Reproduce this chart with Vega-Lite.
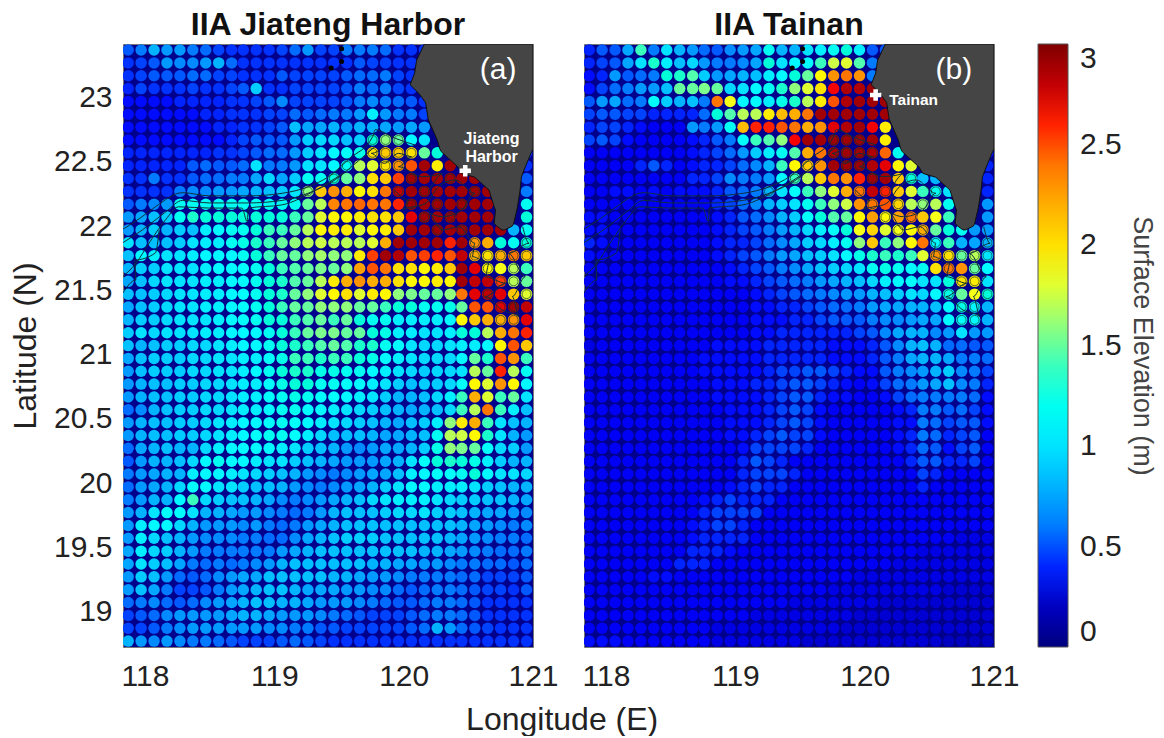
{"$schema":"https://vega.github.io/schema/vega-lite/v6.json","padding":{"left":9,"top":8,"right":0,"bottom":0},"background":"white","spacing":22,"title":{"text":"Longitude (E)","orient":"bottom","anchor":"start","dx":457,"fontSize":32,"fontWeight":"normal","color":"#222","offset":13},"datasets":{"land":[{"lat":23.417,"w":120.16,"e":121},{"lat":23.29,"w":120.1,"e":121},{"lat":23.19,"w":120.085,"e":121},{"lat":23.1,"w":120.05,"e":121},{"lat":23.03,"w":120.12,"e":121},{"lat":22.96,"w":120.17,"e":121},{"lat":22.83,"w":120.19,"e":121},{"lat":22.67,"w":120.26,"e":121},{"lat":22.6,"w":120.28,"e":121},{"lat":22.58,"w":120.29,"e":120.99},{"lat":22.46,"w":120.42,"e":120.94},{"lat":22.41,"w":120.45,"e":120.92},{"lat":22.38,"w":120.55,"e":120.91},{"lat":22.28,"w":120.66,"e":120.9},{"lat":22.15,"w":120.7,"e":120.88},{"lat":22.125,"w":120.71,"e":120.875},{"lat":22.02,"w":120.7,"e":120.85},{"lat":22,"w":120.72,"e":120.84},{"lat":21.97,"w":120.76,"e":120.78}],"rings":[{"lon":119.76,"lat":22.67},{"lon":119.86,"lat":22.67},{"lon":119.96,"lat":22.67},{"lon":119.76,"lat":22.57},{"lon":119.86,"lat":22.57},{"lon":119.96,"lat":22.57},{"lon":120.06,"lat":22.57},{"lon":119.86,"lat":22.47},{"lon":119.96,"lat":22.47},{"lon":120.06,"lat":22.37},{"lon":120.36,"lat":22.37},{"lon":119.96,"lat":22.27},{"lon":120.16,"lat":22.27},{"lon":120.55,"lat":22.27},{"lon":120.06,"lat":22.17},{"lon":120.26,"lat":22.17},{"lon":120.45,"lat":22.17},{"lon":120.16,"lat":22.07},{"lon":120.36,"lat":22.07},{"lon":120.26,"lat":21.97},{"lon":120.45,"lat":21.97},{"lon":120.55,"lat":21.87},{"lon":120.55,"lat":21.77},{"lon":120.65,"lat":21.77},{"lon":120.75,"lat":21.77},{"lon":120.85,"lat":21.77},{"lon":120.65,"lat":21.67},{"lon":120.85,"lat":21.67},{"lon":120.95,"lat":21.77},{"lon":120.75,"lat":21.57},{"lon":120.85,"lat":21.57},{"lon":120.65,"lat":21.47},{"lon":120.95,"lat":21.47},{"lon":120.75,"lat":21.37},{"lon":120.85,"lat":21.37},{"lon":120.75,"lat":21.27},{"lon":120.85,"lat":21.27},{"lon":120.95,"lat":21.87},{"lon":119.26,"lat":22.27},{"lon":119.46,"lat":22.37},{"lon":119.56,"lat":22.47}],"isles":[{"lon":119.52,"lat":23.38},{"lon":119.44,"lat":23.23},{"lon":119.52,"lat":23.28}],"iso":[{"k":"a","i":1,"lon":117.82,"lat":21.97},{"k":"a","i":2,"lon":117.96,"lat":22.06},{"k":"a","i":3,"lon":118.08,"lat":22.15},{"k":"a","i":4,"lon":118.29,"lat":22.26},{"k":"a","i":5,"lon":118.5,"lat":22.235},{"k":"a","i":6,"lon":118.8,"lat":22.235},{"k":"a","i":7,"lon":119.06,"lat":22.255},{"k":"a","i":8,"lon":119.26,"lat":22.305},{"k":"a","i":9,"lon":119.42,"lat":22.385},{"k":"a","i":10,"lon":119.58,"lat":22.525},{"k":"a","i":11,"lon":119.76,"lat":22.695},{"k":"a","i":12,"lon":119.78,"lat":22.75},{"k":"a","i":13,"lon":119.93,"lat":22.685},{"k":"a","i":14,"lon":120.09,"lat":22.63},{"k":"b","i":1,"lon":117.82,"lat":21.865},{"k":"b","i":2,"lon":117.98,"lat":21.97},{"k":"b","i":3,"lon":118.16,"lat":22.11},{"k":"b","i":4,"lon":118.29,"lat":22.2},{"k":"b","i":5,"lon":118.5,"lat":22.18},{"k":"b","i":6,"lon":118.8,"lat":22.18},{"k":"b","i":7,"lon":119.06,"lat":22.2},{"k":"b","i":8,"lon":119.26,"lat":22.255},{"k":"b","i":9,"lon":119.47,"lat":22.36},{"k":"b","i":10,"lon":119.63,"lat":22.49},{"k":"b","i":11,"lon":119.78,"lat":22.62},{"k":"c","i":1,"lon":117.82,"lat":21.6},{"k":"c","i":2,"lon":117.93,"lat":21.71},{"k":"c","i":3,"lon":118.03,"lat":21.865},{"k":"c","i":4,"lon":118.16,"lat":22.05},{"k":"c","i":5,"lon":118.26,"lat":22.15},{"k":"c","i":6,"lon":118.5,"lat":22.14},{"k":"c","i":7,"lon":118.75,"lat":22.14},{"k":"c","i":8,"lon":118.79,"lat":22.035},{"k":"c","i":9,"lon":118.8,"lat":22.14},{"k":"c","i":10,"lon":119.06,"lat":22.165},{"k":"c","i":11,"lon":119.32,"lat":22.28},{"k":"c","i":12,"lon":119.53,"lat":22.41},{"k":"d","i":1,"lon":117.83,"lat":21.48},{"k":"d","i":2,"lon":117.93,"lat":21.58},{"k":"d","i":3,"lon":117.92,"lat":21.736},{"k":"d","i":4,"lon":118.08,"lat":21.79},{"k":"d","i":5,"lon":118.11,"lat":21.97},{"k":"e","i":1,"lon":119.93,"lat":22.28},{"k":"e","i":2,"lon":120.04,"lat":22.2},{"k":"e","i":3,"lon":119.99,"lat":22.125},{"k":"e","i":4,"lon":120.17,"lat":22.177},{"k":"e","i":5,"lon":120.27,"lat":22.307},{"k":"e","i":6,"lon":120.4,"lat":22.359},{"k":"e","i":7,"lon":120.55,"lat":22.255},{"k":"e","i":8,"lon":120.45,"lat":22.125},{"k":"e","i":9,"lon":120.3,"lat":22.073},{"k":"e","i":10,"lon":120.19,"lat":22.112},{"k":"e","i":11,"lon":120.3,"lat":21.97},{"k":"e","i":12,"lon":120.43,"lat":21.995},{"k":"e","i":13,"lon":120.55,"lat":21.866},{"k":"e","i":14,"lon":120.53,"lat":21.762},{"k":"e","i":15,"lon":120.66,"lat":21.71},{"k":"e","i":16,"lon":120.63,"lat":21.606},{"k":"e","i":17,"lon":120.79,"lat":21.555},{"k":"e","i":18,"lon":120.63,"lat":21.451},{"k":"e","i":19,"lon":120.76,"lat":21.347},{"k":"e","i":20,"lon":120.89,"lat":21.295},{"k":"e","i":21,"lon":120.84,"lat":21.451},{"k":"e","i":22,"lon":120.94,"lat":21.606},{"k":"e","i":23,"lon":120.81,"lat":21.788},{"k":"e","i":24,"lon":120.97,"lat":21.866},{"k":"e","i":25,"lon":120.92,"lat":21.995},{"k":"f","i":1,"lon":119.85,"lat":22.62},{"k":"f","i":2,"lon":119.75,"lat":22.566},{"k":"f","i":3,"lon":119.85,"lat":22.488},{"k":"f","i":4,"lon":119.96,"lat":22.566},{"k":"f","i":5,"lon":120.06,"lat":22.54},{"k":"f","i":6,"lon":119.96,"lat":22.462},{"k":"f","i":7,"lon":120.14,"lat":22.385},{"k":"f","i":8,"lon":120.3,"lat":22.41},{"k":"f","i":9,"lon":120.2,"lat":22.28}]},"data":{"values":"x,y,a,b\n117.87,23.37,.5,.4\n117.97,23.37,.6,.5\n118.07,23.37,.8,.5\n118.17,23.37,.7,.75\n118.27,23.37,.7,1.4\n118.37,23.37,.6,.6\n118.47,23.37,.55,1\n118.57,23.37,.45,.8\n118.67,23.37,.42,.7\n118.76,23.37,.42,.55\n118.86,23.37,.42,.5\n118.96,23.37,.42,.65\n119.06,23.37,.45,.7\n119.16,23.37,.55,.75\n119.26,23.37,.7,1.2\n119.36,23.37,.45,.8\n119.46,23.37,.45,.8\n119.56,23.37,.6,1\n119.66,23.37,.6,1.05\n119.76,23.37,.6,1.2\n119.86,23.37,.55,1.3\n119.96,23.37,.42,1.05\n120.06,23.37,.42,.5\n120.16,23.37,.42,.5\n117.87,23.27,.42,.4\n117.97,23.27,.45,.45\n118.07,23.27,.5,.5\n118.17,23.27,.7,.75\n118.27,23.27,.65,1\n118.37,23.27,.65,1.35\n118.47,23.27,.7,1.05\n118.57,23.27,.8,.85\n118.67,23.27,.55,.95\n118.76,23.27,.42,.7\n118.86,23.27,.42,.6\n118.96,23.27,.42,.6\n119.06,23.27,.42,.65\n119.16,23.27,.42,.75\n119.26,23.27,.42,1.3\n119.36,23.27,.42,1\n119.46,23.27,.42,1.1\n119.56,23.27,.42,1.1\n119.66,23.27,.5,1.4\n119.76,23.27,.45,1.75\n119.86,23.27,.45,1.8\n119.96,23.27,.42,1.45\n120.06,23.27,.42,.6\n120.16,23.27,.42,.5\n117.87,23.17,.42,.38\n117.97,23.17,.45,.4\n118.07,23.17,.5,.7\n118.17,23.17,.5,.5\n118.27,23.17,.5,.55\n118.37,23.17,.55,.6\n118.47,23.17,.55,1.3\n118.57,23.17,.45,1.35\n118.67,23.17,.45,1.45\n118.76,23.17,.42,.9\n118.86,23.17,.42,.7\n118.96,23.17,.42,.75\n119.06,23.17,.5,.8\n119.16,23.17,.45,.85\n119.26,23.17,.45,1.05\n119.36,23.17,.45,1.1\n119.46,23.17,.45,1.3\n119.56,23.17,.5,1.5\n119.66,23.17,.55,1.9\n119.76,23.17,.55,2.3\n119.86,23.17,.6,2.4\n119.96,23.17,.45,2.3\n120.06,23.17,.42,.6\n120.16,23.17,.42,.5\n117.87,23.07,.4,.38\n117.97,23.07,.45,.45\n118.07,23.07,.42,.55\n118.17,23.07,.42,.6\n118.27,23.07,.42,.7\n118.37,23.07,.45,.7\n118.47,23.07,.42,.85\n118.57,23.07,.42,1.5\n118.67,23.07,.45,1.5\n118.76,23.07,.5,1.55\n118.86,23.07,.9,1.5\n118.96,23.07,.42,.95\n119.06,23.07,.42,1\n119.16,23.07,.45,1.1\n119.26,23.07,.45,1.2\n119.36,23.07,.45,1.35\n119.46,23.07,.45,1.6\n119.56,23.07,.5,1.8\n119.66,23.07,.6,2\n119.76,23.07,.55,2.65\n119.86,23.07,.6,2.85\n119.96,23.07,.45,2.85\n120.06,23.07,.42,2.9\n120.16,23.07,.42,2.9\n117.87,22.97,.38,.5\n117.97,22.97,.38,.7\n118.07,22.97,.38,.75\n118.17,22.97,.38,.55\n118.27,22.97,.4,.6\n118.37,22.97,.4,1.15\n118.47,22.97,.4,.9\n118.57,22.97,.4,.8\n118.67,22.97,.42,.85\n118.76,22.97,.42,.6\n118.86,22.97,.45,2.4\n118.96,22.97,.5,1.85\n119.06,22.97,.65,1.1\n119.16,22.97,.45,1.1\n119.26,22.97,.45,1.05\n119.36,22.97,.45,1.25\n119.46,22.97,.45,1.35\n119.56,22.97,.5,1.7\n119.66,22.97,.6,1.95\n119.76,22.97,.65,2.5\n119.86,22.97,.6,2.85\n119.96,22.97,.55,2.9\n120.06,22.97,.5,2.9\n120.16,22.97,.42,2.9\n117.87,22.87,.38,.45\n117.97,22.87,.38,.5\n118.07,22.87,.38,.5\n118.17,22.87,.38,.45\n118.27,22.87,.38,.45\n118.37,22.87,.38,.4\n118.47,22.87,.4,.4\n118.57,22.87,.4,.4\n118.67,22.87,.42,.4\n118.76,22.87,.42,.55\n118.86,22.87,.42,1.3\n118.96,22.87,.45,1.45\n119.06,22.87,.45,1.7\n119.16,22.87,.55,1.7\n119.26,22.87,.5,1.95\n119.36,22.87,.55,2.15\n119.46,22.87,.6,2.2\n119.56,22.87,.6,2.4\n119.66,22.87,.7,2.9\n119.76,22.87,1.05,2.9\n119.86,22.87,.7,2.9\n119.96,22.87,.6,2.9\n120.06,22.87,.6,2.9\n120.16,22.87,.45,2.9\n117.87,22.77,.38,.4\n117.97,22.77,.38,.45\n118.07,22.77,.38,.45\n118.17,22.77,.38,.4\n118.27,22.77,.38,.38\n118.37,22.77,.38,.35\n118.47,22.77,.38,.35\n118.57,22.77,.4,.35\n118.67,22.77,.4,.7\n118.76,22.77,.42,.6\n118.86,22.77,.42,.7\n118.96,22.77,.45,1.2\n119.06,22.77,.5,2.15\n119.16,22.77,.85,2.6\n119.26,22.77,.75,2.6\n119.36,22.77,.75,2.5\n119.46,22.77,.8,2.4\n119.56,22.77,.7,2.2\n119.66,22.77,.8,2.3\n119.76,22.77,.8,2.7\n119.86,22.77,.75,2.85\n119.96,22.77,.7,2.9\n120.06,22.77,.75,2.65\n120.16,22.77,.7,1.95\n117.87,22.67,.38,.45\n117.97,22.67,.38,.5\n118.07,22.67,.38,.45\n118.17,22.67,.38,.38\n118.27,22.67,.38,.35\n118.37,22.67,.38,.35\n118.47,22.67,.38,.35\n118.57,22.67,.38,.35\n118.67,22.67,.4,.38\n118.76,22.67,.45,.4\n118.86,22.67,.5,.5\n118.96,22.67,.5,.6\n119.06,22.67,.5,1.15\n119.16,22.67,.7,1.4\n119.26,22.67,.9,1.45\n119.36,22.67,.95,1.6\n119.46,22.67,.95,2.65\n119.56,22.67,.85,2.9\n119.66,22.67,.9,2.9\n119.76,22.67,1.3,2.9\n119.86,22.67,1.6,2.9\n119.96,22.67,1.5,2.9\n120.06,22.67,1.1,2.9\n120.16,22.67,1,1.95\n117.87,22.57,.4,.35\n117.97,22.57,.4,.35\n118.07,22.57,.4,.35\n118.17,22.57,.4,.35\n118.27,22.57,.4,.35\n118.37,22.57,.4,.35\n118.47,22.57,.4,.35\n118.57,22.57,.42,.35\n118.67,22.57,.42,.38\n118.76,22.57,.45,.4\n118.86,22.57,.5,.45\n118.96,22.57,.55,.55\n119.06,22.57,.55,.7\n119.16,22.57,.7,.9\n119.26,22.57,.9,1.05\n119.36,22.57,1,1.2\n119.46,22.57,1.1,1.45\n119.56,22.57,1.15,2.2\n119.66,22.57,1.25,2.4\n119.76,22.57,2,2.85\n119.86,22.57,2.1,2.9\n119.96,22.57,2.1,2.9\n120.06,22.57,2,2.85\n120.16,22.57,1.5,2.45\n120.26,22.57,1.3,1.2\n120.95,22.57,.42,.4\n117.87,22.47,.4,.35\n117.97,22.47,.4,.35\n118.07,22.47,.4,.35\n118.17,22.47,.4,.35\n118.27,22.47,.4,.4\n118.37,22.47,.5,.5\n118.47,22.47,.55,.4\n118.57,22.47,.5,.35\n118.67,22.47,.5,.38\n118.76,22.47,.55,.4\n118.86,22.47,1,.4\n118.96,22.47,.6,.45\n119.06,22.47,.6,.55\n119.16,22.47,.7,.65\n119.26,22.47,1,.8\n119.36,22.47,1,1.4\n119.46,22.47,1.1,1.9\n119.56,22.47,1.2,2.1\n119.66,22.47,1.7,2.3\n119.76,22.47,1.8,2.9\n119.86,22.47,2,2.9\n119.96,22.47,2.3,2.9\n120.06,22.47,2.5,2.85\n120.16,22.47,2.9,2.7\n120.26,22.47,1.95,1.9\n120.36,22.47,2.9,1.8\n120.95,22.47,.42,.4\n117.87,22.37,.42,.35\n117.97,22.37,.42,.35\n118.07,22.37,.6,.35\n118.17,22.37,.42,.35\n118.27,22.37,.42,.35\n118.37,22.37,.5,.35\n118.47,22.37,.55,.35\n118.57,22.37,.55,.35\n118.67,22.37,.6,.4\n118.76,22.37,.6,.4\n118.86,22.37,.75,.45\n118.96,22.37,.95,.65\n119.06,22.37,.75,.6\n119.16,22.37,.9,.6\n119.26,22.37,1.2,.7\n119.36,22.37,1.2,1.1\n119.46,22.37,1.3,1.4\n119.56,22.37,1.5,1.7\n119.66,22.37,1.6,2.1\n119.76,22.37,2,2.4\n119.86,22.37,2.1,2.3\n119.96,22.37,2.55,2.6\n120.06,22.37,2.9,2.9\n120.16,22.37,2.9,2.9\n120.26,22.37,2.9,2.1\n120.36,22.37,2.9,1.3\n120.45,22.37,2.9,.85\n120.55,22.37,2.9,.8\n120.95,22.37,.5,.4\n117.87,22.27,.42,.35\n117.97,22.27,.42,.35\n118.07,22.27,.42,.38\n118.17,22.27,.42,.38\n118.27,22.27,.6,.35\n118.37,22.27,.65,.38\n118.47,22.27,.65,.35\n118.57,22.27,.7,.38\n118.67,22.27,.7,.38\n118.76,22.27,.75,.38\n118.86,22.27,.8,.4\n118.96,22.27,.85,.5\n119.06,22.27,.9,.55\n119.16,22.27,1,.6\n119.26,22.27,1.6,.8\n119.36,22.27,2.1,1\n119.46,22.27,2.3,1.15\n119.56,22.27,2.2,1.4\n119.66,22.27,1.9,1.6\n119.76,22.27,2,1.8\n119.86,22.27,2.4,2.2\n119.96,22.27,2.8,2.4\n120.06,22.27,2.9,2.8\n120.16,22.27,2.9,2.6\n120.26,22.27,2.9,2.1\n120.36,22.27,2.9,1.8\n120.45,22.27,2.9,1.4\n120.55,22.27,2.9,1.2\n120.65,22.27,2.9,1\n120.95,22.27,.6,.4\n117.87,22.17,.5,.35\n117.97,22.17,.6,.35\n118.07,22.17,.65,.35\n118.17,22.17,.7,.35\n118.27,22.17,1.2,.35\n118.37,22.17,1.2,.35\n118.47,22.17,1.2,.35\n118.57,22.17,1.2,.35\n118.67,22.17,1.2,.35\n118.76,22.17,1.2,.35\n118.86,22.17,1.2,.4\n118.96,22.17,1.2,.45\n119.06,22.17,1.2,.55\n119.16,22.17,1.2,.65\n119.26,22.17,1.5,.8\n119.36,22.17,1.7,.9\n119.46,22.17,2.35,1\n119.56,22.17,2.4,1.2\n119.66,22.17,2.45,1.4\n119.76,22.17,2.4,1.6\n119.86,22.17,2.4,1.75\n119.96,22.17,2.6,2.3\n120.06,22.17,2.9,2.4\n120.16,22.17,2.9,2.5\n120.26,22.17,2.9,2.05\n120.36,22.17,2.9,1.7\n120.45,22.17,2.9,1.6\n120.55,22.17,2.9,1.7\n120.65,22.17,2.9,1.2\n120.95,22.17,1.2,.7\n117.87,22.07,.7,.38\n117.97,22.07,.75,.38\n118.07,22.07,.85,.35\n118.17,22.07,.9,.35\n118.27,22.07,1.2,.35\n118.37,22.07,1.35,.35\n118.47,22.07,1.3,.35\n118.57,22.07,1.3,.35\n118.67,22.07,1.3,.35\n118.76,22.07,1.3,.35\n118.86,22.07,1.3,.38\n118.96,22.07,1.3,.4\n119.06,22.07,1.3,.5\n119.16,22.07,1.4,.55\n119.26,22.07,1.5,.65\n119.36,22.07,1.8,.8\n119.46,22.07,1.9,.9\n119.56,22.07,1.9,1.15\n119.66,22.07,1.95,1.3\n119.76,22.07,2,1.45\n119.86,22.07,2,1.5\n119.96,22.07,2.1,1.9\n120.06,22.07,2.7,2.25\n120.16,22.07,2.9,1.9\n120.26,22.07,2.9,2.25\n120.36,22.07,2.9,2.4\n120.45,22.07,2.9,2.1\n120.55,22.07,2.9,1.85\n120.65,22.07,2.9,1.4\n120.95,22.07,1.3,.7\n117.87,21.97,.7,.38\n117.97,21.97,.8,.38\n118.07,21.97,.9,.35\n118.17,21.97,.8,.35\n118.27,21.97,.9,.35\n118.37,21.97,.85,.35\n118.47,21.97,1.05,.35\n118.57,21.97,1.1,.35\n118.67,21.97,1.2,.35\n118.76,21.97,1.2,.35\n118.86,21.97,1.3,.38\n118.96,21.97,1.4,.4\n119.06,21.97,1.4,.45\n119.16,21.97,1.5,.5\n119.26,21.97,1.7,.6\n119.36,21.97,1.9,.7\n119.46,21.97,1.95,.8\n119.56,21.97,1.95,.95\n119.66,21.97,1.8,1.05\n119.76,21.97,1.9,1.15\n119.86,21.97,1.95,1.3\n119.96,21.97,2.1,1.85\n120.06,21.97,2.9,2.05\n120.16,21.97,2.9,1.8\n120.26,21.97,2.9,1.85\n120.36,21.97,2.9,1.9\n120.45,21.97,2.9,2.2\n120.55,21.97,2.9,1.5\n120.65,21.97,2.9,1.3\n120.75,21.97,2.9,1.2\n120.85,21.97,.8,.7\n120.95,21.97,1.2,.7\n117.87,21.87,1,.4\n117.97,21.87,.85,.38\n118.07,21.87,.85,.35\n118.17,21.87,.85,.35\n118.27,21.87,.9,.35\n118.37,21.87,1,.35\n118.47,21.87,1.05,.35\n118.57,21.87,1.05,.35\n118.67,21.87,1.2,.35\n118.76,21.87,1.25,.35\n118.86,21.87,1.35,.38\n118.96,21.87,1.4,.4\n119.06,21.87,1.5,.4\n119.16,21.87,1.6,.45\n119.26,21.87,1.7,.55\n119.36,21.87,1.75,.65\n119.46,21.87,1.7,.75\n119.56,21.87,1.7,.9\n119.66,21.87,1.7,.95\n119.76,21.87,1.8,1.05\n119.86,21.87,2.2,1.2\n119.96,21.87,2.9,1.6\n120.06,21.87,2.9,2.1\n120.16,21.87,2.9,1.4\n120.26,21.87,2.9,1.6\n120.36,21.87,2.6,1.9\n120.45,21.87,2.9,2.4\n120.55,21.87,2.3,1.1\n120.65,21.87,2.2,1.4\n120.75,21.87,1.3,.8\n120.85,21.87,1.2,.75\n120.95,21.87,1.3,.8\n117.87,21.77,.85,.38\n117.97,21.77,1.1,.35\n118.07,21.77,1.05,.35\n118.17,21.77,1,.35\n118.27,21.77,1,.35\n118.37,21.77,1.05,.35\n118.47,21.77,1.1,.35\n118.57,21.77,1.1,.35\n118.67,21.77,1.1,.35\n118.76,21.77,1.2,.35\n118.86,21.77,1.3,.38\n118.96,21.77,1.4,.4\n119.06,21.77,1.5,.45\n119.16,21.77,1.5,.5\n119.26,21.77,1.6,.6\n119.36,21.77,1.65,.7\n119.46,21.77,1.6,.75\n119.56,21.77,1.6,.85\n119.66,21.77,1.95,.9\n119.76,21.77,2.55,1\n119.86,21.77,2.9,1.1\n119.96,21.77,2.85,1.25\n120.06,21.77,2.5,1.35\n120.16,21.77,2.55,1.4\n120.26,21.77,2.6,1.35\n120.36,21.77,2.5,1.4\n120.45,21.77,2.8,1.8\n120.55,21.77,2.2,2.3\n120.65,21.77,2,2\n120.75,21.77,2.2,1.5\n120.85,21.77,2.4,1.7\n120.95,21.77,2.1,1\n117.87,21.67,.8,.35\n117.97,21.67,.9,.35\n118.07,21.67,.9,.35\n118.17,21.67,1,.35\n118.27,21.67,1,.35\n118.37,21.67,1,.35\n118.47,21.67,1.05,.35\n118.57,21.67,1.1,.35\n118.67,21.67,1.1,.35\n118.76,21.67,1.15,.35\n118.86,21.67,1.2,.35\n118.96,21.67,1.3,.38\n119.06,21.67,1.4,.4\n119.16,21.67,1.45,.45\n119.26,21.67,1.5,.5\n119.36,21.67,1.55,.6\n119.46,21.67,1.5,.65\n119.56,21.67,1.6,.75\n119.66,21.67,2.25,.85\n119.76,21.67,2.5,.9\n119.86,21.67,2.4,.95\n119.96,21.67,2,1\n120.06,21.67,2,1.2\n120.16,21.67,1.9,1.25\n120.26,21.67,1.95,1.2\n120.36,21.67,2.1,1.15\n120.45,21.67,2.9,1.2\n120.55,21.67,2.7,2\n120.65,21.67,1.9,2.4\n120.75,21.67,1.85,2.3\n120.85,21.67,1.7,1.5\n120.95,21.67,1.4,1.1\n117.87,21.57,.75,.35\n117.97,21.57,.85,.35\n118.07,21.57,.95,.35\n118.17,21.57,1,.35\n118.27,21.57,1,.35\n118.37,21.57,1,.35\n118.47,21.57,1.05,.35\n118.57,21.57,1.05,.35\n118.67,21.57,1.1,.35\n118.76,21.57,1.15,.35\n118.86,21.57,1.2,.35\n118.96,21.57,1.3,.38\n119.06,21.57,1.35,.38\n119.16,21.57,1.45,.4\n119.26,21.57,1.5,.45\n119.36,21.57,1.7,.5\n119.46,21.57,1.95,.55\n119.56,21.57,2.2,.6\n119.66,21.57,2.3,.7\n119.76,21.57,2.2,.75\n119.86,21.57,2.2,.8\n119.96,21.57,2,.85\n120.06,21.57,1.9,.95\n120.16,21.57,1.9,1.05\n120.26,21.57,1.95,1.1\n120.36,21.57,1.9,1.15\n120.45,21.57,2.9,1\n120.55,21.57,2.8,1\n120.65,21.57,2.8,1.3\n120.75,21.57,2.55,2\n120.85,21.57,1.7,1.95\n120.95,21.57,1.5,1\n117.87,21.47,.85,.35\n117.97,21.47,.85,.35\n118.07,21.47,.9,.35\n118.17,21.47,.95,.35\n118.27,21.47,1,.35\n118.37,21.47,1,.35\n118.47,21.47,1.05,.35\n118.57,21.47,1.05,.35\n118.67,21.47,1.1,.35\n118.76,21.47,1.15,.35\n118.86,21.47,1.2,.35\n118.96,21.47,1.3,.35\n119.06,21.47,1.35,.35\n119.16,21.47,1.5,.38\n119.26,21.47,1.6,.4\n119.36,21.47,1.8,.45\n119.46,21.47,1.9,.5\n119.56,21.47,2,.55\n119.66,21.47,1.8,.6\n119.76,21.47,1.95,.65\n119.86,21.47,1.9,.7\n119.96,21.47,1.6,.7\n120.06,21.47,1.55,.8\n120.16,21.47,1.5,.85\n120.26,21.47,1.5,.9\n120.36,21.47,1.6,1\n120.45,21.47,2.4,.95\n120.55,21.47,2.7,1.1\n120.65,21.47,2.8,1.25\n120.75,21.47,2.7,1.5\n120.85,21.47,2.1,1.85\n120.95,21.47,1.8,1.3\n117.87,21.37,.75,.35\n117.97,21.37,.85,.35\n118.07,21.37,.9,.35\n118.17,21.37,.95,.35\n118.27,21.37,1,.35\n118.37,21.37,1,.35\n118.47,21.37,1.05,.35\n118.57,21.37,1.05,.35\n118.67,21.37,1.1,.35\n118.76,21.37,1.15,.35\n118.86,21.37,1.2,.35\n118.96,21.37,1.3,.35\n119.06,21.37,1.4,.35\n119.16,21.37,1.5,.38\n119.26,21.37,1.5,.38\n119.36,21.37,1.6,.4\n119.46,21.37,1.6,.4\n119.56,21.37,1.6,.45\n119.66,21.37,1.5,.5\n119.76,21.37,1.5,.55\n119.86,21.37,1.4,.55\n119.96,21.37,1.3,.6\n120.06,21.37,1.3,.7\n120.16,21.37,1.2,.75\n120.26,21.37,1.2,.75\n120.36,21.37,1.25,.8\n120.45,21.37,1.5,.8\n120.55,21.37,2.5,.85\n120.65,21.37,2.5,1.1\n120.75,21.37,2.7,1.25\n120.85,21.37,2.9,1.1\n120.95,21.37,2.8,.8\n117.87,21.27,.8,.35\n117.97,21.27,.9,.35\n118.07,21.27,.9,.35\n118.17,21.27,.95,.35\n118.27,21.27,1,.35\n118.37,21.27,1,.35\n118.47,21.27,1,.35\n118.57,21.27,1.05,.35\n118.67,21.27,1.1,.35\n118.76,21.27,1.15,.35\n118.86,21.27,1.2,.35\n118.96,21.27,1.3,.35\n119.06,21.27,1.3,.35\n119.16,21.27,1.4,.38\n119.26,21.27,1.45,.38\n119.36,21.27,1.5,.38\n119.46,21.27,1.4,.4\n119.56,21.27,1.5,.4\n119.66,21.27,1.3,.45\n119.76,21.27,1.2,.5\n119.86,21.27,1.2,.5\n119.96,21.27,1.05,.5\n120.06,21.27,1.05,.6\n120.16,21.27,1.05,.65\n120.26,21.27,1.05,.65\n120.36,21.27,1.1,.7\n120.45,21.27,1.9,.75\n120.55,21.27,2.1,.75\n120.65,21.27,2.2,1.1\n120.75,21.27,2.2,1.15\n120.85,21.27,2.3,1.1\n120.95,21.27,2.7,.8\n117.87,21.17,.9,.35\n117.97,21.17,1,.35\n118.07,21.17,.95,.35\n118.17,21.17,1,.35\n118.27,21.17,1,.35\n118.37,21.17,1,.35\n118.47,21.17,1.05,.35\n118.57,21.17,1.05,.35\n118.67,21.17,1.1,.35\n118.76,21.17,1.1,.35\n118.86,21.17,1.1,.35\n118.96,21.17,1.2,.35\n119.06,21.17,1.3,.35\n119.16,21.17,1.4,.38\n119.26,21.17,1.5,.38\n119.36,21.17,1.55,.4\n119.46,21.17,1.55,.4\n119.56,21.17,1.5,.4\n119.66,21.17,1.5,.4\n119.76,21.17,1.3,.4\n119.86,21.17,1.25,.4\n119.96,21.17,1.05,.45\n120.06,21.17,1.05,.5\n120.16,21.17,1,.65\n120.26,21.17,1,.75\n120.36,21.17,1.05,.8\n120.45,21.17,1.3,.8\n120.55,21.17,1.3,.65\n120.65,21.17,1.7,.7\n120.75,21.17,2.2,1\n120.85,21.17,2.4,.7\n120.95,21.17,2.6,.7\n117.87,21.07,.85,.3\n117.97,21.07,.8,.35\n118.07,21.07,.85,.35\n118.17,21.07,.9,.35\n118.27,21.07,.9,.35\n118.37,21.07,.95,.35\n118.47,21.07,.95,.35\n118.57,21.07,1,.35\n118.67,21.07,1.05,.35\n118.76,21.07,1.1,.35\n118.86,21.07,1.1,.38\n118.96,21.07,1.2,.38\n119.06,21.07,1.3,.38\n119.16,21.07,1.35,.38\n119.26,21.07,1.4,.4\n119.36,21.07,1.45,.4\n119.46,21.07,1.5,.4\n119.56,21.07,1.45,.4\n119.66,21.07,1.35,.4\n119.76,21.07,1.35,.38\n119.86,21.07,1.2,.38\n119.96,21.07,1.1,.38\n120.06,21.07,1,.4\n120.16,21.07,.95,.5\n120.26,21.07,.95,.65\n120.36,21.07,1,.8\n120.45,21.07,1.05,.85\n120.55,21.07,1.05,.8\n120.65,21.07,1.1,.55\n120.75,21.07,1.9,.55\n120.85,21.07,2.5,.5\n120.95,21.07,2.1,.5\n117.87,20.97,.75,.35\n117.97,20.97,.85,.35\n118.07,20.97,.9,.35\n118.17,20.97,.9,.35\n118.27,20.97,.9,.35\n118.37,20.97,.95,.35\n118.47,20.97,.95,.35\n118.57,20.97,1,.35\n118.67,20.97,1,.35\n118.76,20.97,1.05,.38\n118.86,20.97,1.05,.38\n118.96,20.97,1.15,.38\n119.06,20.97,1.25,.38\n119.16,20.97,1.4,.38\n119.26,20.97,1.4,.4\n119.36,20.97,1.35,.4\n119.46,20.97,1.4,.4\n119.56,20.97,1.4,.4\n119.66,20.97,1.3,.4\n119.76,20.97,1.25,.38\n119.86,20.97,1.1,.38\n119.96,20.97,1.05,.38\n120.06,20.97,1,.4\n120.16,20.97,.95,.5\n120.26,20.97,.95,.6\n120.36,20.97,.95,.75\n120.45,20.97,1.1,.8\n120.55,20.97,1.5,.8\n120.65,20.97,1.35,.75\n120.75,20.97,2.5,.6\n120.85,20.97,2.3,.6\n120.95,20.97,1.4,.55\n117.87,20.87,.7,.35\n117.97,20.87,.85,.35\n118.07,20.87,.9,.35\n118.17,20.87,.9,.35\n118.27,20.87,.9,.35\n118.37,20.87,.95,.35\n118.47,20.87,.95,.35\n118.57,20.87,1,.35\n118.67,20.87,1,.35\n118.76,20.87,1.05,.38\n118.86,20.87,1.1,.38\n118.96,20.87,1.2,.38\n119.06,20.87,1.3,.38\n119.16,20.87,1.35,.38\n119.26,20.87,1.35,.4\n119.36,20.87,1.25,.45\n119.46,20.87,1.25,.45\n119.56,20.87,1.2,.5\n119.66,20.87,1.2,.5\n119.76,20.87,1.1,.45\n119.86,20.87,1.05,.4\n119.96,20.87,1,.38\n120.06,20.87,.95,.38\n120.16,20.87,.9,.5\n120.26,20.87,.95,.6\n120.36,20.87,.95,.65\n120.45,20.87,1,.7\n120.55,20.87,1.7,.8\n120.65,20.87,1.5,.9\n120.75,20.87,2.6,.65\n120.85,20.87,1.7,.6\n120.95,20.87,1.2,.45\n117.87,20.77,.7,.35\n117.97,20.77,.8,.35\n118.07,20.77,.85,.35\n118.17,20.77,.85,.35\n118.27,20.77,.9,.35\n118.37,20.77,.9,.35\n118.47,20.77,.95,.35\n118.57,20.77,.95,.35\n118.67,20.77,1,.35\n118.76,20.77,1.05,.35\n118.86,20.77,1.05,.38\n118.96,20.77,1.15,.38\n119.06,20.77,1.25,.38\n119.16,20.77,1.3,.4\n119.26,20.77,1.3,.4\n119.36,20.77,1.2,.45\n119.46,20.77,1.2,.5\n119.56,20.77,1.15,.5\n119.66,20.77,1.1,.45\n119.76,20.77,1.05,.4\n119.86,20.77,1,.38\n119.96,20.77,.9,.35\n120.06,20.77,.85,.38\n120.16,20.77,.9,.45\n120.26,20.77,.9,.55\n120.36,20.77,.95,.6\n120.45,20.77,1.15,.7\n120.55,20.77,1.9,.75\n120.65,20.77,1.8,.85\n120.75,20.77,2.3,.65\n120.85,20.77,1.9,.6\n120.95,20.77,1.1,.4\n117.87,20.67,.7,.35\n117.97,20.67,.8,.35\n118.07,20.67,.85,.35\n118.17,20.67,.85,.35\n118.27,20.67,.9,.35\n118.37,20.67,.9,.35\n118.47,20.67,.95,.35\n118.57,20.67,.95,.35\n118.67,20.67,1,.35\n118.76,20.67,1.05,.35\n118.86,20.67,1.05,.38\n118.96,20.67,1.15,.38\n119.06,20.67,1.2,.38\n119.16,20.67,1.25,.38\n119.26,20.67,1.2,.4\n119.36,20.67,1.15,.45\n119.46,20.67,1.15,.5\n119.56,20.67,1.1,.5\n119.66,20.67,1.05,.4\n119.76,20.67,1,.38\n119.86,20.67,.9,.38\n119.96,20.67,.8,.35\n120.06,20.67,.8,.35\n120.16,20.67,.85,.38\n120.26,20.67,.95,.45\n120.36,20.67,1.05,.55\n120.45,20.67,1.4,.6\n120.55,20.67,2.2,.6\n120.65,20.67,1.8,.6\n120.75,20.67,1.4,.6\n120.85,20.67,1.5,.55\n120.95,20.67,1,.38\n117.87,20.57,.55,.35\n117.97,20.57,.65,.35\n118.07,20.57,.8,.35\n118.17,20.57,.85,.35\n118.27,20.57,.9,.35\n118.37,20.57,.9,.35\n118.47,20.57,.95,.35\n118.57,20.57,.95,.35\n118.67,20.57,1,.35\n118.76,20.57,1.05,.35\n118.86,20.57,1.05,.35\n118.96,20.57,1.1,.38\n119.06,20.57,1.2,.38\n119.16,20.57,1.2,.38\n119.26,20.57,1.1,.4\n119.36,20.57,1.1,.45\n119.46,20.57,1.05,.5\n119.56,20.57,1,.45\n119.66,20.57,.95,.38\n119.76,20.57,.9,.35\n119.86,20.57,.85,.35\n119.96,20.57,.8,.35\n120.06,20.57,.75,.35\n120.16,20.57,.8,.35\n120.26,20.57,.85,.38\n120.36,20.57,.95,.4\n120.45,20.57,1.4,.6\n120.55,20.57,1.7,.6\n120.65,20.57,2.4,.5\n120.75,20.57,1.4,.55\n120.85,20.57,1.05,.45\n120.95,20.57,.85,.38\n117.87,20.47,.7,.35\n117.97,20.47,.8,.35\n118.07,20.47,.85,.35\n118.17,20.47,.85,.35\n118.27,20.47,.9,.35\n118.37,20.47,.9,.35\n118.47,20.47,.95,.35\n118.57,20.47,1,.35\n118.67,20.47,1.05,.35\n118.76,20.47,1.1,.35\n118.86,20.47,1.1,.35\n118.96,20.47,1.15,.38\n119.06,20.47,1.2,.38\n119.16,20.47,1.15,.38\n119.26,20.47,1.1,.4\n119.36,20.47,1.05,.45\n119.46,20.47,1,.5\n119.56,20.47,.95,.45\n119.66,20.47,.9,.38\n119.76,20.47,.85,.35\n119.86,20.47,.8,.35\n119.96,20.47,.75,.35\n120.06,20.47,.85,.35\n120.16,20.47,.9,.35\n120.26,20.47,1.05,.38\n120.36,20.47,1.6,.38\n120.45,20.47,1.95,.6\n120.55,20.47,2.2,.55\n120.65,20.47,1.4,.45\n120.75,20.47,1,.5\n120.85,20.47,.85,.5\n120.95,20.47,.8,.38\n117.87,20.37,.7,.35\n117.97,20.37,.8,.35\n118.07,20.37,.85,.35\n118.17,20.37,.85,.35\n118.27,20.37,.9,.35\n118.37,20.37,.9,.35\n118.47,20.37,.95,.35\n118.57,20.37,1,.35\n118.67,20.37,1.05,.35\n118.76,20.37,1.1,.35\n118.86,20.37,1.15,.35\n118.96,20.37,1.2,.38\n119.06,20.37,1.2,.38\n119.16,20.37,1.15,.4\n119.26,20.37,1.05,.45\n119.36,20.37,.95,.5\n119.46,20.37,.85,.45\n119.56,20.37,.85,.45\n119.66,20.37,.85,.38\n119.76,20.37,.8,.35\n119.86,20.37,.75,.35\n119.96,20.37,.75,.35\n120.06,20.37,.8,.35\n120.16,20.37,.85,.35\n120.26,20.37,1.2,.38\n120.36,20.37,1.7,.4\n120.45,20.37,1.75,.6\n120.55,20.37,1.9,.55\n120.65,20.37,1.35,.4\n120.75,20.37,1,.45\n120.85,20.37,.8,.5\n120.95,20.37,.7,.35\n117.87,20.27,.55,.35\n117.97,20.27,.75,.35\n118.07,20.27,.8,.35\n118.17,20.27,.85,.35\n118.27,20.27,.8,.35\n118.37,20.27,.8,.35\n118.47,20.27,.95,.35\n118.57,20.27,1.05,.35\n118.67,20.27,1.1,.35\n118.76,20.27,1.1,.35\n118.86,20.27,1.1,.35\n118.96,20.27,1.1,.35\n119.06,20.27,1.05,.38\n119.16,20.27,1,.45\n119.26,20.27,.9,.45\n119.36,20.27,.85,.45\n119.46,20.27,.8,.45\n119.56,20.27,.7,.4\n119.66,20.27,.65,.35\n119.76,20.27,.7,.35\n119.86,20.27,.75,.35\n119.96,20.27,.75,.35\n120.06,20.27,.8,.35\n120.16,20.27,.9,.35\n120.26,20.27,1.25,.38\n120.36,20.27,1.6,.4\n120.45,20.27,1.55,.55\n120.55,20.27,1.5,.5\n120.65,20.27,1.15,.38\n120.75,20.27,.95,.45\n120.85,20.27,.9,.5\n120.95,20.27,.7,.35\n117.87,20.17,.5,.35\n117.97,20.17,.7,.35\n118.07,20.17,.8,.35\n118.17,20.17,.8,.35\n118.27,20.17,.85,.35\n118.37,20.17,.95,.35\n118.47,20.17,1.1,.35\n118.57,20.17,1.2,.35\n118.67,20.17,1.1,.35\n118.76,20.17,1.1,.35\n118.86,20.17,1.05,.35\n118.96,20.17,1,.35\n119.06,20.17,1,.4\n119.16,20.17,.9,.5\n119.26,20.17,.85,.45\n119.36,20.17,.8,.4\n119.46,20.17,.75,.35\n119.56,20.17,.7,.35\n119.66,20.17,.7,.35\n119.76,20.17,.7,.35\n119.86,20.17,.75,.35\n119.96,20.17,.8,.35\n120.06,20.17,1,.35\n120.16,20.17,1.15,.35\n120.26,20.17,1.3,.35\n120.36,20.17,1.35,.4\n120.45,20.17,1.3,.5\n120.55,20.17,1.25,.5\n120.65,20.17,1.05,.4\n120.75,20.17,.9,.4\n120.85,20.17,.8,.45\n120.95,20.17,.8,.35\n117.87,20.07,.6,.35\n117.97,20.07,.7,.35\n118.07,20.07,.75,.35\n118.17,20.07,.8,.35\n118.27,20.07,.8,.35\n118.37,20.07,1.05,.35\n118.47,20.07,1.1,.35\n118.57,20.07,1.1,.35\n118.67,20.07,1.05,.35\n118.76,20.07,1,.35\n118.86,20.07,.95,.35\n118.96,20.07,.9,.35\n119.06,20.07,.85,.4\n119.16,20.07,.8,.45\n119.26,20.07,.7,.45\n119.36,20.07,.65,.45\n119.46,20.07,.6,.4\n119.56,20.07,.65,.35\n119.66,20.07,.7,.35\n119.76,20.07,.75,.35\n119.86,20.07,.75,.35\n119.96,20.07,.85,.35\n120.06,20.07,1.05,.35\n120.16,20.07,1.1,.35\n120.26,20.07,1.15,.35\n120.36,20.07,1.15,.35\n120.45,20.07,1.2,.45\n120.55,20.07,1.3,.4\n120.65,20.07,1.1,.35\n120.75,20.07,1,.35\n120.85,20.07,1,.35\n120.95,20.07,.95,.35\n117.87,19.97,.55,.35\n117.97,19.97,.7,.35\n118.07,19.97,.75,.35\n118.17,19.97,.8,.35\n118.27,19.97,.95,.35\n118.37,19.97,1.15,.35\n118.47,19.97,1.1,.35\n118.57,19.97,1,.35\n118.67,19.97,1,.35\n118.76,19.97,.9,.35\n118.86,19.97,.85,.35\n118.96,19.97,.85,.38\n119.06,19.97,.8,.4\n119.16,19.97,.7,.45\n119.26,19.97,.65,.4\n119.36,19.97,.6,.4\n119.46,19.97,.65,.35\n119.56,19.97,.7,.35\n119.66,19.97,.75,.35\n119.76,19.97,.8,.35\n119.86,19.97,.9,.35\n119.96,19.97,1,.35\n120.06,19.97,1.1,.35\n120.16,19.97,1.1,.35\n120.26,19.97,1.05,.35\n120.36,19.97,1.05,.35\n120.45,19.97,1.05,.4\n120.55,19.97,1,.35\n120.65,19.97,.9,.35\n120.75,19.97,.85,.35\n120.85,19.97,.8,.35\n120.95,19.97,.8,.35\n117.87,19.87,.6,.35\n117.97,19.87,.7,.35\n118.07,19.87,.8,.35\n118.17,19.87,.8,.35\n118.27,19.87,1.1,.35\n118.37,19.87,1.4,.35\n118.47,19.87,.95,.35\n118.57,19.87,.9,.35\n118.67,19.87,.85,.35\n118.76,19.87,.85,.38\n118.86,19.87,.8,.4\n118.96,19.87,.75,.45\n119.06,19.87,.65,.4\n119.16,19.87,.6,.4\n119.26,19.87,.65,.4\n119.36,19.87,.7,.35\n119.46,19.87,.75,.35\n119.56,19.87,.8,.35\n119.66,19.87,.85,.35\n119.76,19.87,.95,.35\n119.86,19.87,1,.35\n119.96,19.87,1.05,.35\n120.06,19.87,1.05,.35\n120.16,19.87,1.05,.35\n120.26,19.87,1,.35\n120.36,19.87,.95,.35\n120.45,19.87,.9,.35\n120.55,19.87,.9,.35\n120.65,19.87,.85,.35\n120.75,19.87,.85,.35\n120.85,19.87,.8,.35\n120.95,19.87,.75,.35\n117.87,19.77,.7,.35\n117.97,19.77,.8,.35\n118.07,19.77,1,.35\n118.17,19.77,1.15,.35\n118.27,19.77,1.15,.35\n118.37,19.77,1,.35\n118.47,19.77,.8,.35\n118.57,19.77,.8,.35\n118.67,19.77,.75,.35\n118.76,19.77,.7,.4\n118.86,19.77,.7,.45\n118.96,19.77,.65,.45\n119.06,19.77,.6,.45\n119.16,19.77,.55,.45\n119.26,19.77,.6,.35\n119.36,19.77,.7,.35\n119.46,19.77,.8,.35\n119.56,19.77,.85,.35\n119.66,19.77,.85,.35\n119.76,19.77,.85,.35\n119.86,19.77,.9,.35\n119.96,19.77,.95,.35\n120.06,19.77,.95,.35\n120.16,19.77,1,.35\n120.26,19.77,.9,.35\n120.36,19.77,.9,.35\n120.45,19.77,.85,.35\n120.55,19.77,.8,.35\n120.65,19.77,.75,.35\n120.75,19.77,.75,.35\n120.85,19.77,.7,.35\n120.95,19.77,.65,.35\n117.87,19.67,.7,.35\n117.97,19.67,1.05,.35\n118.07,19.67,1.1,.35\n118.17,19.67,1.1,.35\n118.27,19.67,.95,.35\n118.37,19.67,.8,.35\n118.47,19.67,.7,.35\n118.57,19.67,.7,.35\n118.67,19.67,.7,.38\n118.76,19.67,.65,.4\n118.86,19.67,.7,.45\n118.96,19.67,.6,.45\n119.06,19.67,.55,.4\n119.16,19.67,.6,.35\n119.26,19.67,.7,.35\n119.36,19.67,.75,.35\n119.46,19.67,.8,.35\n119.56,19.67,.85,.35\n119.66,19.67,.85,.35\n119.76,19.67,.85,.35\n119.86,19.67,.85,.35\n119.96,19.67,.85,.35\n120.06,19.67,.85,.35\n120.16,19.67,.85,.35\n120.26,19.67,.85,.35\n120.36,19.67,.85,.35\n120.45,19.67,.8,.35\n120.55,19.67,.75,.35\n120.65,19.67,.7,.35\n120.75,19.67,.65,.35\n120.85,19.67,.6,.35\n120.95,19.67,.65,.35\n117.87,19.57,.7,.35\n117.97,19.57,1.05,.35\n118.07,19.57,.95,.35\n118.17,19.57,.85,.35\n118.27,19.57,.8,.35\n118.37,19.57,.7,.35\n118.47,19.57,.65,.35\n118.57,19.57,.65,.35\n118.67,19.57,.65,.38\n118.76,19.57,.6,.4\n118.86,19.57,.6,.4\n118.96,19.57,.55,.4\n119.06,19.57,.55,.4\n119.16,19.57,.65,.35\n119.26,19.57,.75,.35\n119.36,19.57,.8,.35\n119.46,19.57,.85,.35\n119.56,19.57,.9,.35\n119.66,19.57,.9,.35\n119.76,19.57,.9,.35\n119.86,19.57,.85,.35\n119.96,19.57,.85,.35\n120.06,19.57,.85,.35\n120.16,19.57,.85,.35\n120.26,19.57,.85,.35\n120.36,19.57,.8,.35\n120.45,19.57,.75,.35\n120.55,19.57,.7,.35\n120.65,19.57,.65,.35\n120.75,19.57,.6,.3\n120.85,19.57,.6,.3\n120.95,19.57,.55,.3\n117.87,19.47,.75,.35\n117.97,19.47,1.05,.35\n118.07,19.47,.95,.35\n118.17,19.47,.9,.35\n118.27,19.47,.8,.35\n118.37,19.47,.7,.35\n118.47,19.47,.6,.35\n118.57,19.47,.6,.35\n118.67,19.47,.6,.4\n118.76,19.47,.6,.4\n118.86,19.47,.6,.4\n118.96,19.47,.6,.38\n119.06,19.47,.7,.35\n119.16,19.47,.75,.35\n119.26,19.47,.8,.35\n119.36,19.47,.85,.35\n119.46,19.47,.85,.35\n119.56,19.47,.85,.35\n119.66,19.47,.85,.35\n119.76,19.47,.85,.35\n119.86,19.47,.85,.35\n119.96,19.47,.85,.35\n120.06,19.47,.85,.35\n120.16,19.47,.8,.35\n120.26,19.47,.8,.35\n120.36,19.47,.75,.35\n120.45,19.47,.7,.3\n120.55,19.47,.65,.3\n120.65,19.47,.6,.3\n120.75,19.47,.55,.3\n120.85,19.47,.55,.3\n120.95,19.47,.6,.3\n117.87,19.37,.75,.35\n117.97,19.37,1,.35\n118.07,19.37,.9,.35\n118.17,19.37,.85,.35\n118.27,19.37,.75,.35\n118.37,19.37,.6,.35\n118.47,19.37,.55,.35\n118.57,19.37,.6,.4\n118.67,19.37,.55,.4\n118.76,19.37,.6,.4\n118.86,19.37,.65,.35\n118.96,19.37,.7,.35\n119.06,19.37,.8,.35\n119.16,19.37,.85,.35\n119.26,19.37,.85,.35\n119.36,19.37,.85,.35\n119.46,19.37,.85,.35\n119.56,19.37,.85,.35\n119.66,19.37,.85,.35\n119.76,19.37,.8,.35\n119.86,19.37,.8,.35\n119.96,19.37,.75,.35\n120.06,19.37,.75,.35\n120.16,19.37,.7,.35\n120.26,19.37,.7,.3\n120.36,19.37,.65,.3\n120.45,19.37,.6,.3\n120.55,19.37,.6,.3\n120.65,19.37,.55,.3\n120.75,19.37,.55,.3\n120.85,19.37,.5,.3\n120.95,19.37,.55,.3\n117.87,19.27,.7,.35\n117.97,19.27,.9,.35\n118.07,19.27,.85,.35\n118.17,19.27,.7,.35\n118.27,19.27,.55,.35\n118.37,19.27,.5,.38\n118.47,19.27,.55,.38\n118.57,19.27,.65,.35\n118.67,19.27,.7,.35\n118.76,19.27,.75,.35\n118.86,19.27,.75,.35\n118.96,19.27,.85,.35\n119.06,19.27,.85,.35\n119.16,19.27,.85,.35\n119.26,19.27,.85,.35\n119.36,19.27,.85,.35\n119.46,19.27,.8,.35\n119.56,19.27,.8,.35\n119.66,19.27,.75,.35\n119.76,19.27,.7,.35\n119.86,19.27,.7,.35\n119.96,19.27,.65,.3\n120.06,19.27,.6,.3\n120.16,19.27,.6,.3\n120.26,19.27,.6,.3\n120.36,19.27,.6,.3\n120.45,19.27,.55,.3\n120.55,19.27,.55,.3\n120.65,19.27,.45,.3\n120.75,19.27,.45,.3\n120.85,19.27,.45,.3\n120.95,19.27,.5,.3\n117.87,19.17,.7,.35\n117.97,19.17,.85,.35\n118.07,19.17,.75,.35\n118.17,19.17,.6,.35\n118.27,19.17,.45,.35\n118.37,19.17,.45,.35\n118.47,19.17,.5,.35\n118.57,19.17,.6,.35\n118.67,19.17,.7,.35\n118.76,19.17,.75,.35\n118.86,19.17,.8,.35\n118.96,19.17,.85,.35\n119.06,19.17,.85,.35\n119.16,19.17,.8,.35\n119.26,19.17,.75,.35\n119.36,19.17,.75,.35\n119.46,19.17,.75,.35\n119.56,19.17,.7,.35\n119.66,19.17,.7,.35\n119.76,19.17,.65,.3\n119.86,19.17,.65,.3\n119.96,19.17,.55,.3\n120.06,19.17,.5,.3\n120.16,19.17,.55,.3\n120.26,19.17,.6,.3\n120.36,19.17,.6,.3\n120.45,19.17,.55,.3\n120.55,19.17,.5,.3\n120.65,19.17,.45,.25\n120.75,19.17,.45,.25\n120.85,19.17,.42,.25\n120.95,19.17,.5,.25\n117.87,19.07,.55,.35\n117.97,19.07,.6,.35\n118.07,19.07,.65,.35\n118.17,19.07,.55,.35\n118.27,19.07,.5,.35\n118.37,19.07,.55,.35\n118.47,19.07,.65,.35\n118.57,19.07,.7,.35\n118.67,19.07,.75,.35\n118.76,19.07,.8,.35\n118.86,19.07,.85,.35\n118.96,19.07,.85,.35\n119.06,19.07,.8,.35\n119.16,19.07,.8,.35\n119.26,19.07,.75,.35\n119.36,19.07,.7,.35\n119.46,19.07,.7,.3\n119.56,19.07,.7,.3\n119.66,19.07,.65,.3\n119.76,19.07,.6,.3\n119.86,19.07,.55,.3\n119.96,19.07,.5,.3\n120.06,19.07,.5,.3\n120.16,19.07,.55,.25\n120.26,19.07,.6,.25\n120.36,19.07,.6,.25\n120.45,19.07,.55,.25\n120.55,19.07,.5,.25\n120.65,19.07,.42,.25\n120.75,19.07,.42,.25\n120.85,19.07,.42,.25\n120.95,19.07,.42,.25\n117.87,18.97,.45,.35\n117.97,18.97,.5,.35\n118.07,18.97,.55,.35\n118.17,18.97,.65,.35\n118.27,18.97,.7,.35\n118.37,18.97,.7,.35\n118.47,18.97,.7,.35\n118.57,18.97,.7,.35\n118.67,18.97,.75,.35\n118.76,18.97,.8,.35\n118.86,18.97,.8,.35\n118.96,18.97,.75,.35\n119.06,18.97,.7,.35\n119.16,18.97,.7,.3\n119.26,18.97,.7,.3\n119.36,18.97,.65,.3\n119.46,18.97,.6,.3\n119.56,18.97,.55,.3\n119.66,18.97,.5,.3\n119.76,18.97,.45,.3\n119.86,18.97,.45,.3\n119.96,18.97,.45,.25\n120.06,18.97,.5,.25\n120.16,18.97,.55,.25\n120.26,18.97,.6,.25\n120.36,18.97,.6,.25\n120.45,18.97,.55,.25\n120.55,18.97,.5,.25\n120.65,18.97,.42,.25\n120.75,18.97,.42,.25\n120.85,18.97,.42,.25\n120.95,18.97,.42,.25\n117.87,18.87,.45,.35\n117.97,18.87,.45,.35\n118.07,18.87,.5,.35\n118.17,18.87,.6,.35\n118.27,18.87,.65,.35\n118.37,18.87,.7,.35\n118.47,18.87,.7,.35\n118.57,18.87,.7,.35\n118.67,18.87,.7,.35\n118.76,18.87,.7,.35\n118.86,18.87,.7,.3\n118.96,18.87,.65,.3\n119.06,18.87,.65,.3\n119.16,18.87,.6,.3\n119.26,18.87,.6,.3\n119.36,18.87,.5,.3\n119.46,18.87,.5,.3\n119.56,18.87,.45,.3\n119.66,18.87,.45,.3\n119.76,18.87,.45,.3\n119.86,18.87,.45,.25\n119.96,18.87,.45,.25\n120.06,18.87,.5,.25\n120.16,18.87,.55,.25\n120.26,18.87,.8,.25\n120.36,18.87,.7,.25\n120.45,18.87,.55,.25\n120.55,18.87,.5,.25\n120.65,18.87,.45,.25\n120.75,18.87,.42,.25\n120.85,18.87,.42,.25\n120.95,18.87,.42,.25\n117.87,18.77,.8,.38\n117.97,18.77,.7,.38\n118.07,18.77,.65,.38\n118.17,18.77,.7,.35\n118.27,18.77,.65,.35\n118.37,18.77,.6,.35\n118.47,18.77,.6,.35\n118.57,18.77,.55,.35\n118.67,18.77,.5,.35\n118.76,18.77,.45,.35\n118.86,18.77,.45,.3\n118.96,18.77,.45,.3\n119.06,18.77,.5,.3\n119.16,18.77,.55,.3\n119.26,18.77,.5,.3\n119.36,18.77,.45,.3\n119.46,18.77,.42,.3\n119.56,18.77,.42,.25\n119.66,18.77,.42,.25\n119.76,18.77,.42,.25\n119.86,18.77,.42,.25\n119.96,18.77,.42,.25\n120.06,18.77,.42,.25\n120.16,18.77,.42,.25\n120.26,18.77,.42,.25\n120.36,18.77,.42,.25\n120.45,18.77,.42,.25\n120.55,18.77,.42,.25\n120.65,18.77,.42,.2\n120.75,18.77,.42,.2\n120.85,18.77,.42,.2\n120.95,18.77,.42,.2","format":{"type":"csv","parse":{"x":"number","y":"number","a":"number","b":"number"}}},"config":{"font":"Liberation Sans","view":{"fill":"#00008c","stroke":"#777","strokeWidth":1},"axis":{"grid":false,"ticks":false,"domain":false,"labelFlush":false,"labelFont":"Liberation Sans","labelFontSize":30,"labelColor":"#222","titleFont":"Liberation Sans","titleFontSize":32,"titleColor":"#222","titleFontWeight":"normal"},"title":{"font":"Liberation Sans","fontSize":32,"fontWeight":"bold","color":"#111","offset":2},"legend":{"labelFont":"Liberation Sans","labelFontSize":30,"labelColor":"#222","titleFont":"Liberation Sans","titleFontSize":27,"titleColor":"#444","titleFontWeight":"normal"}},"resolve":{"scale":{"color":"shared"}},"hconcat":[{"width":410,"height":603,"title":"IIA Jiateng Harbor","layer":[{"mark":{"type":"point","filled":true,"opacity":1,"size":132,"clip":true},"encoding":{"x":{"field":"x","type":"quantitative","scale":{"domain":[117.83,121]},"axis":{"values":[118,119,120,121],"labelPadding":14,"format":"d","title":null}},"y":{"field":"y","type":"quantitative","scale":{"domain":[18.724,23.417]},"axis":{"values":[19,19.5,20,20.5,21,21.5,22,22.5,23],"format":"~g","labelPadding":11,"title":"Latitude (N)","titlePadding":11}},"color":{"field":"a","type":"quantitative","scale":{"domain":[0,0.375,1.125,1.875,2.625,3],"range":["#00007f","#0000ff","#00ffff","#ffff00","#ff0000","#7f0000"]},"legend":{"title":"Surface Elevation (m)","titleOrient":"right","titleLimit":400,"titleAnchor":"middle","titleBaseline":"middle","gradientLength":603,"gradientThickness":30,"gradientStrokeColor":"#555","gradientStrokeWidth":1,"values":[0,0.5,1,1.5,2,2.5,3],"format":"~g","labelOffset":12,"offset":18,"titlePadding":20,"encoding":{"title":{"update":{"angle":{"value":-90}}}}}}}},{"data":{"name":"land"},"mark":{"type":"area","orient":"horizontal","color":"#454545","stroke":"#111","strokeWidth":1,"clip":true},"encoding":{"y":{"field":"lat","type":"quantitative","scale":{"domain":[18.724,23.417]}},"x":{"field":"w","type":"quantitative","scale":{"domain":[117.83,121]}},"x2":{"field":"e"}}},{"data":{"name":"iso"},"mark":{"type":"line","color":"#10303a","strokeWidth":1,"clip":true,"interpolate":"monotone"},"encoding":{"x":{"field":"lon","type":"quantitative","scale":{"domain":[117.83,121]}},"y":{"field":"lat","type":"quantitative","scale":{"domain":[18.724,23.417]}},"detail":{"field":"k"},"order":{"field":"i"}}},{"data":{"name":"rings"},"mark":{"type":"point","filled":false,"color":"#12302a","opacity":0.7,"size":80,"strokeWidth":1,"clip":true},"encoding":{"x":{"field":"lon","type":"quantitative","scale":{"domain":[117.83,121]}},"y":{"field":"lat","type":"quantitative","scale":{"domain":[18.724,23.417]}}}},{"data":{"name":"isles"},"mark":{"type":"point","filled":true,"color":"#000","opacity":1,"size":25,"clip":true},"encoding":{"x":{"field":"lon","type":"quantitative","scale":{"domain":[117.83,121]}},"y":{"field":"lat","type":"quantitative","scale":{"domain":[18.724,23.417]}}}},{"data":{"values":[{"lon":120.476,"lat":22.43}]},"mark":{"type":"point","shape":"cross","filled":true,"color":"white","opacity":1,"size":130},"encoding":{"x":{"field":"lon","type":"quantitative","scale":{"domain":[117.83,121]}},"y":{"field":"lat","type":"quantitative","scale":{"domain":[18.724,23.417]}}}},{"data":{"values":[{"lon":120.68,"lat":22.68,"t":"Jiateng"},{"lon":120.68,"lat":22.535,"t":"Harbor"}]},"mark":{"type":"text","color":"white","fontWeight":"bold","fontSize":16},"encoding":{"x":{"field":"lon","type":"quantitative","scale":{"domain":[117.83,121]}},"y":{"field":"lat","type":"quantitative","scale":{"domain":[18.724,23.417]}},"text":{"field":"t"}}},{"data":{"values":[{"lon":120.73,"lat":23.215,"t":"(a)"}]},"mark":{"type":"text","color":"white","fontSize":30},"encoding":{"x":{"field":"lon","type":"quantitative","scale":{"domain":[117.83,121]}},"y":{"field":"lat","type":"quantitative","scale":{"domain":[18.724,23.417]}},"text":{"field":"t"}}}]},{"width":410,"height":603,"title":"IIA Tainan","layer":[{"mark":{"type":"point","filled":true,"opacity":1,"size":132,"clip":true},"encoding":{"x":{"field":"x","type":"quantitative","scale":{"domain":[117.83,121]},"axis":{"values":[118,119,120,121],"labelPadding":14,"format":"d","title":null}},"y":{"field":"y","type":"quantitative","scale":{"domain":[18.724,23.417]},"axis":null},"color":{"field":"b","type":"quantitative","scale":{"domain":[0,0.375,1.125,1.875,2.625,3],"range":["#00007f","#0000ff","#00ffff","#ffff00","#ff0000","#7f0000"]},"legend":{"title":"Surface Elevation (m)","titleOrient":"right","titleLimit":400,"titleAnchor":"middle","titleBaseline":"middle","gradientLength":603,"gradientThickness":30,"gradientStrokeColor":"#555","gradientStrokeWidth":1,"values":[0,0.5,1,1.5,2,2.5,3],"format":"~g","labelOffset":12,"offset":18,"titlePadding":20,"encoding":{"title":{"update":{"angle":{"value":-90}}}}}}}},{"data":{"name":"land"},"mark":{"type":"area","orient":"horizontal","color":"#454545","stroke":"#111","strokeWidth":1,"clip":true},"encoding":{"y":{"field":"lat","type":"quantitative","scale":{"domain":[18.724,23.417]}},"x":{"field":"w","type":"quantitative","scale":{"domain":[117.83,121]}},"x2":{"field":"e"}}},{"data":{"name":"iso"},"mark":{"type":"line","color":"#10303a","strokeWidth":1,"clip":true,"interpolate":"monotone"},"encoding":{"x":{"field":"lon","type":"quantitative","scale":{"domain":[117.83,121]}},"y":{"field":"lat","type":"quantitative","scale":{"domain":[18.724,23.417]}},"detail":{"field":"k"},"order":{"field":"i"}}},{"data":{"name":"rings"},"mark":{"type":"point","filled":false,"color":"#12302a","opacity":0.7,"size":80,"strokeWidth":1,"clip":true},"encoding":{"x":{"field":"lon","type":"quantitative","scale":{"domain":[117.83,121]}},"y":{"field":"lat","type":"quantitative","scale":{"domain":[18.724,23.417]}}}},{"data":{"name":"isles"},"mark":{"type":"point","filled":true,"color":"#000","opacity":1,"size":25,"clip":true},"encoding":{"x":{"field":"lon","type":"quantitative","scale":{"domain":[117.83,121]}},"y":{"field":"lat","type":"quantitative","scale":{"domain":[18.724,23.417]}}}},{"data":{"values":[{"lon":120.085,"lat":23.02}]},"mark":{"type":"point","shape":"cross","filled":true,"color":"white","opacity":1,"size":130},"encoding":{"x":{"field":"lon","type":"quantitative","scale":{"domain":[117.83,121]}},"y":{"field":"lat","type":"quantitative","scale":{"domain":[18.724,23.417]}}}},{"data":{"values":[{"lon":120.19,"lat":22.98,"t":"Tainan"}]},"mark":{"type":"text","color":"white","fontWeight":"bold","fontSize":15.5,"align":"left"},"encoding":{"x":{"field":"lon","type":"quantitative","scale":{"domain":[117.83,121]}},"y":{"field":"lat","type":"quantitative","scale":{"domain":[18.724,23.417]}},"text":{"field":"t"}}},{"data":{"values":[{"lon":120.69,"lat":23.215,"t":"(b)"}]},"mark":{"type":"text","color":"white","fontSize":30},"encoding":{"x":{"field":"lon","type":"quantitative","scale":{"domain":[117.83,121]}},"y":{"field":"lat","type":"quantitative","scale":{"domain":[18.724,23.417]}},"text":{"field":"t"}}}]}]}
